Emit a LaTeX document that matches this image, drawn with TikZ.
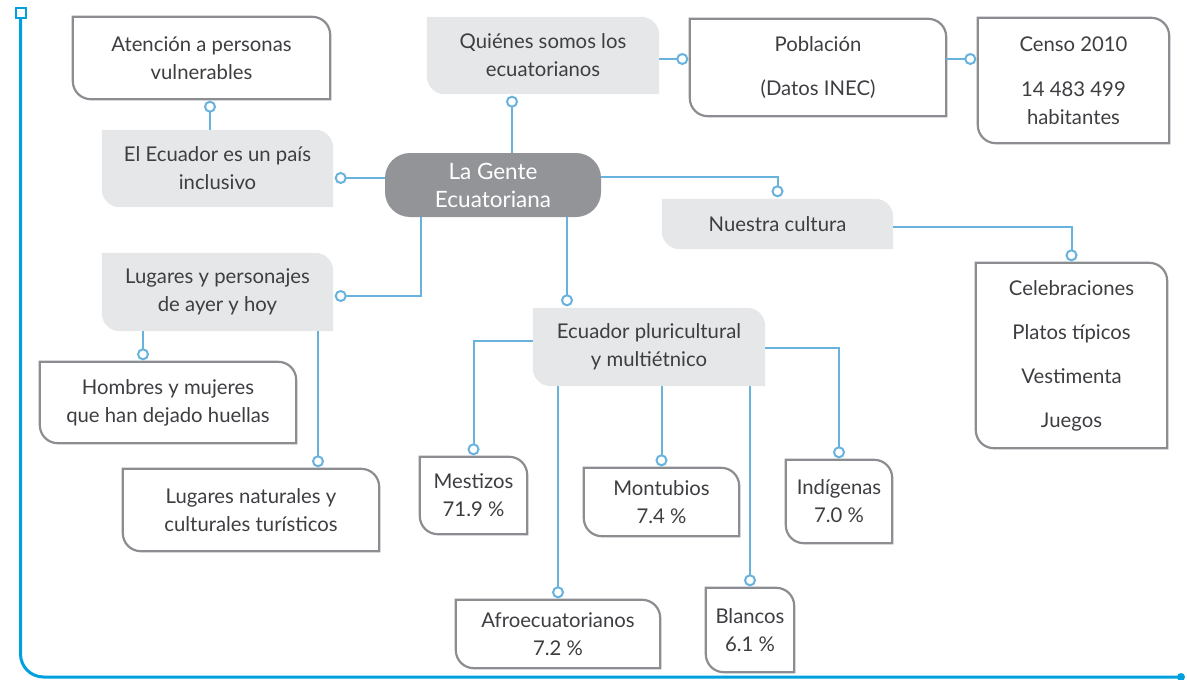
\documentclass[tikz,border=0pt]{standalone}
\usepackage{fontspec}
\setmainfont{Lato}
\usetikzlibrary{arrows.meta,backgrounds,calc}
\definecolor{linkblue}{RGB}{104,178,222}
\definecolor{frameblue}{RGB}{0,160,222}
\definecolor{edgegray}{RGB}{140,141,145}
\definecolor{palegray}{RGB}{230,231,232}
\definecolor{hubgray}{RGB}{147,148,152}
\definecolor{ink}{RGB}{62,62,66}
\newlength\crad
\setlength\crad{18pt}
% outline with rounded top-right and bottom-left corners
\newcommand\cutbox[2]{%
  \path[#2] (#1.north west) -- ([xshift=-\crad]#1.north east)
    arc[start angle=90,end angle=0,radius=\crad] -- (#1.south east)
    -- ([xshift=\crad]#1.south west)
    arc[start angle=270,end angle=180,radius=\crad] -- cycle;}
\tikzset{
  card/.style={inner sep=0pt,align=center,text=ink,
    font=\fontsize{20.3}{28}\selectfont},
  cardline/.style={draw=edgegray,line width=2.2pt,fill=white},
  cardfill/.style={fill=palegray},
  hub/.style={fill=hubgray,text=white,rounded corners=25pt,inner sep=0pt,
    minimum width=216pt,minimum height=64pt,align=center,
    font=\fontsize{22.5}{28}\selectfont},
  link/.style={draw=linkblue,line width=2pt,shorten >=1.5pt,
    -{Circle[fill=white,length=12pt]}},
  framesq/.style={draw=frameblue,line width=2pt,fill=white,
    minimum size=10pt,inner sep=0pt},
}
\begin{document}
\begin{tikzpicture}[x=1pt,y=1pt]
  \useasboundingbox (0,0) rectangle (1187,-680);
  % frame
  \node[framesq] (fs) at (20.5,-12.5) {};
  \coordinate (fe) at (1181,-677);
  \draw[frameblue,line width=3pt,rounded corners=23pt] (fs.south) |- (fe);
  \fill[frameblue] (fe) circle (4pt);

  % centre
  \node[hub] (gente) at (493,-185) {La Gente\\Ecuatoriana};

  % grey topics
  \node[card,minimum width=231pt,minimum height=77pt] (incl) at (217.5,-168.5) {El Ecuador es un país\\inclusivo};
  \node[card,minimum width=232pt,minimum height=77pt] (quien) at (543,-55.5) {Quiénes somos los\\ecuatorianos};
  \node[card,minimum width=231pt,minimum height=50pt] (cult) at (777.5,-224) {Nuestra cultura};
  \node[card,minimum width=231pt,minimum height=78pt] (lug) at (217.5,-292) {Lugares y personajes\\de ayer y hoy};
  \node[card,minimum width=232pt,minimum height=78pt] (pluri) at (649,-347) {Ecuador pluricultural\\y multiétnico};

  % white cards
  \node[card,minimum width=257pt,minimum height=82pt] (atn) at (201.5,-58) {Atención a personas\\vulnerables};
  \node[card,minimum width=256pt,minimum height=97pt] (pobl) at (818,-67.5) {Población\\[16pt](Datos INEC)};
  \node[card,minimum width=191pt,minimum height=125pt] (censo) at (1073.5,-80.5) {Censo 2010\\[17pt]14 483 499\\habitantes};
  \node[card,minimum width=191pt,minimum height=185pt] (celeb) at (1071.5,-355.5) {Celebraciones\\[16pt]Platos típicos\\[16pt]Vestimenta\\[16pt]Juegos};
  \node[card,minimum width=256pt,minimum height=81pt] (homb) at (168,-402.5) {Hombres y mujeres\\que han dejado huellas};
  \node[card,minimum width=256pt,minimum height=82pt] (natur) at (251,-510) {Lugares naturales y\\culturales turísticos};
  \node[card,minimum width=107pt,minimum height=77pt] (mest) at (473.5,-495.5) {Mestizos\\71.9 \%};
  \node[card,minimum width=155pt,minimum height=68pt] (mont) at (661.5,-502) {Montubios\\7.4 \%};
  \node[card,minimum width=106pt,minimum height=83pt] (indi) at (839,-501.5) {Indígenas\\7.0 \%};
  \node[card,minimum width=204pt,minimum height=68pt] (afro) at (558,-634) {Afroecuatorianos\\7.2 \%};
  \node[card,minimum width=88pt,minimum height=84pt] (blan) at (750,-630) {Blancos\\6.1 \%};

  \begin{pgfonlayer}{background}
    \foreach \n in {incl,quien,cult,lug,pluri} \cutbox{\n}{cardfill};
    \foreach \n in {atn,pobl,censo,celeb,homb,natur,mest,mont,indi,afro,blan} \cutbox{\n}{cardline};
  \end{pgfonlayer}

  % connectors
  \draw[link] ([xshift=-7.5]incl.north) -- ([xshift=-7.5]incl.north |- atn.south);
  \draw[link] ([yshift=7]gente.west) -- ([yshift=7]gente.west -| incl.east);
  \draw[link] ([xshift=19]gente.north) -- ([xshift=19]gente.north |- quien.south);
  \draw[link] ([yshift=-3.5]quien.east) -- ([yshift=-3.5]quien.east -| pobl.west);
  \draw[link] ([yshift=8.5]pobl.east) -- ([yshift=8.5]pobl.east -| censo.west);
  \draw[link] ([yshift=8]gente.east) -| (cult.north);
  \draw[link] ([yshift=-3]cult.east) -| (celeb.north);
  \draw[link] ([xshift=-72]gente.south) |- ([yshift=-4]lug.east);
  \draw[link] ([xshift=-74.5]lug.south) -- ([xshift=-74.5]lug.south |- homb.north);
  \draw[link] ([xshift=100.5]lug.south) -- ([xshift=100.5]lug.south |- natur.north);
  \draw[link] ([xshift=74]gente.south) -- ([xshift=74]gente.south |- pluri.north);
  \draw[link] ([yshift=6]pluri.west) -| (mest.north);
  \draw[link] (pluri.south -| afro.north) -- (afro.north);
  \draw[link] (pluri.south -| mont.north) -- (mont.north);
  \draw[link] (pluri.south -| blan.north) -- (blan.north);
  \draw[link] ([yshift=-1]pluri.east) -| (indi.north);
\end{tikzpicture}
\end{document}
